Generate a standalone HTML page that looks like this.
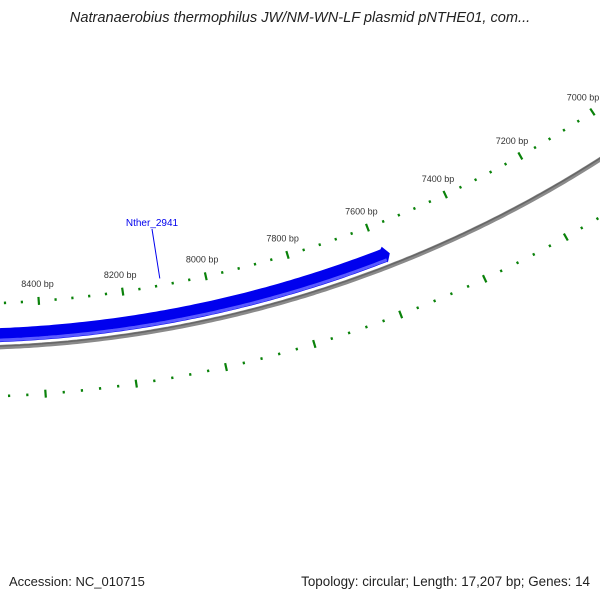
<!DOCTYPE html>
<html><head><meta charset="utf-8"><style>
body{margin:0;background:#fff;}
svg{display:block;font-family:"Liberation Sans","DejaVu Sans",sans-serif;}
</style></head><body>
<svg id="map" width="600" height="600" viewBox="0 0 600 600" xmlns="http://www.w3.org/2000/svg">
<text x="300" y="22" text-anchor="middle" font-size="14.6" font-style="italic" fill="#222">Natranaerobius thermophilus JW/NM-WN-LF plasmid pNTHE01, com...</text>
<g id="rings"></g>
<text x="9" y="586" font-size="13" fill="#222">Accession: NC_010715</text>
<text x="590" y="586" text-anchor="end" font-size="13.4" fill="#222">Topology: circular; Length: 17,207 bp; Genes: 14</text>
</svg>
<script>
const genomeLength = 17207;
const majorTicks = [6600,6800,7000,7200,7400,7600,7800,8000,8200,8400,8600,8800];
const tickLabels = ["6600 bp","6800 bp","7000 bp","7200 bp","7400 bp","7600 bp","7800 bp","8000 bp","8200 bp","8400 bp","8600 bp","8800 bp"];
const minorStep = 40;
const geneNames = ["Nther_2941"];
const geneStarts = [7573];
const geneEnds = [8800];
const geneLabelBp = [8108];

const CX=-46, CY=-853;
const NS="http://www.w3.org/2000/svg";
const g=document.getElementById('rings');
function ang(bp){return (4.2+(8400-bp)*360/genomeLength)*Math.PI/180;}
function pt(bp,r){const a=ang(bp);return [CX+r*Math.sin(a),CY+r*Math.cos(a)];}
function mk(tag,attrs){const e=document.createElementNS(NS,tag);for(const k in attrs)e.setAttribute(k,attrs[k]);g.appendChild(e);return e;}
function arcPath(b1,b2,r){let d="";for(let b=b1;b<=b2;b+=10){const p=pt(b,r);d+=(d?"L":"M")+p[0].toFixed(1)+","+p[1].toFixed(1);}return d;}

let bb=mk('path',{d:arcPath(6000,9600,1201),fill:'none',stroke:'#8a8a8a','stroke-width':4.5});


let bb2=mk('path',{d:arcPath(6000,9600,1200),fill:'none',stroke:'#666','stroke-width':1.5});



geneStarts.forEach((s,i)=>{
  const e=geneEnds[i];
  const tip=s, body=s+12;
  let d="";
  for(let b=e;b>=body;b-=10){const p=pt(b,1182);d+=(d?"L":"M")+p[0].toFixed(1)+","+p[1].toFixed(1);}
  let p=pt(body,1180);d+="L"+p[0]+","+p[1];
  p=pt(tip,1189);d+="L"+p[0]+","+p[1];
  p=pt(body,1197);d+="L"+p[0]+","+p[1];
  for(let b=body;b<=e;b+=10){const q=pt(b,1196);d+="L"+q[0].toFixed(1)+","+q[1].toFixed(1);}
  d+="Z";
  let gp=mk('path',{d:d,fill:'#0000ee'});
  
  
  let hl=mk('path',{d:arcPath(body,e,1194),fill:'none',stroke:'#5a5aff','stroke-width':3});
  
  
  const a=pt(geneLabelBp[i],1150);
  let ln=mk('line',{x1:a[0],y1:a[1],x2:152,y2:229,stroke:'#0000ee','stroke-width':1});
  
  
  let t=mk('text',{x:152,y:226,'text-anchor':'middle','font-size':10,fill:'#0000ee'});
  t.textContent=geneNames[i];
  
  
});

[1157,1250].forEach((R,ri)=>{
  for(let b=majorTicks[0];b<=majorTicks[majorTicks.length-1];b+=minorStep){
    const major=majorTicks.indexOf(b)>=0;
    const h=major?4:1.3;
    const p1=pt(b,R-h),p2=pt(b,R+h);
    let l=mk('line',{x1:p1[0],y1:p1[1],x2:p2[0],y2:p2[1],stroke:'#0a820a','stroke-width':2.2});
    
    
  }
  if(ri===0){
    majorTicks.forEach((b,i)=>{
      const p=pt(b,1140);
      let t=mk('text',{x:p[0].toFixed(1),y:(p[1]+3).toFixed(1),'text-anchor':'middle','font-size':9,fill:'#333'});
      t.textContent=tickLabels[i];
      
      
    });
  }
});
</script>
</body></html>
